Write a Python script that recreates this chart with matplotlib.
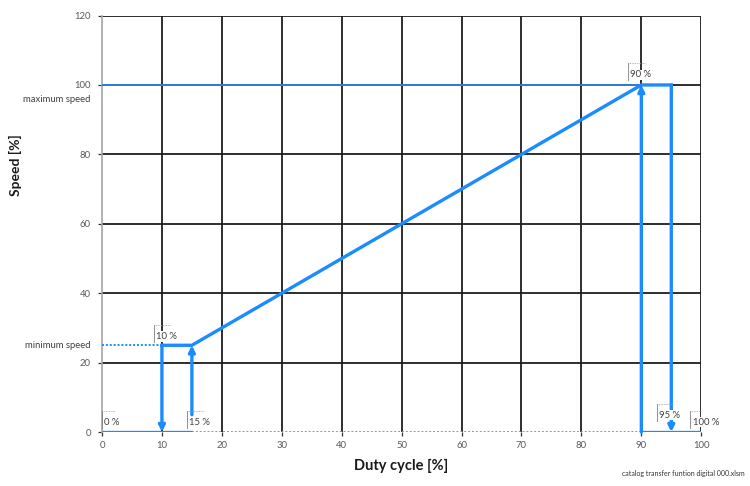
import matplotlib
matplotlib.use("Agg")
import matplotlib.pyplot as plt

plt.rcParams['font.family'] = ['Lato', 'DejaVu Sans']

# ---- data ----
x_ticks = [0, 10, 20, 30, 40, 50, 60, 70, 80, 90, 100]
y_ticks = [0, 20, 40, 60, 80, 100, 120]
min_speed = 25
max_speed = 100
dc_off_low = 10     # switch off below
dc_on_low = 15      # switch on above
dc_max = 90         # max speed reached
dc_off_high = 95    # switch off above
dc_full = 100
arrow_start_15 = 5  # start of the upward arrow at 15 %
ramp_x = [dc_off_low, dc_on_low, dc_max, dc_off_high]
ramp_y = [min_speed, min_speed, max_speed, max_speed]
pct_labels = ["0 %", "10 %", "15 %", "90 %", "95 %", "100 %"]
pct_label_x = [0, 8.7, 14.2, 87.8, 92.6, 98.2]
pct_label_y = [1.5, 26.3, 1.6, 101.6, 3.6, 1.6]
side_labels = ["maximum speed", "minimum speed"]
side_label_y = [95.8, 25]

BLUE = '#1a8cff'
GRID = '#1e1e1e'
TICK = '#595959'

fig = plt.figure(figsize=(7.5, 4.86), dpi=100)
ax = fig.add_axes([0.136, 0.111, 0.799, 0.857])
ax.set_xlim(x_ticks[0], x_ticks[-1])
ax.set_ylim(y_ticks[0], y_ticks[-1])

# grid lines (not at 0)
for xv in x_ticks[1:]:
    ax.axvline(xv, color=GRID, lw=1.3, zorder=1)
for yv in y_ticks[1:]:
    ax.axhline(yv, color=GRID, lw=1.3, zorder=1)

for s in ['top', 'right', 'bottom']:
    ax.spines[s].set_visible(False)
ax.spines['left'].set_color('#a6a6a6')
ax.spines['left'].set_linewidth(1.2)

ax.set_xticks(x_ticks)
ax.set_yticks(y_ticks)
ax.tick_params(axis='both', colors=TICK, labelsize=6.8, length=3, width=0.9)
ax.tick_params(axis='x', colors='#333333', labelcolor=TICK)
ax.tick_params(axis='y', colors='#333333', labelcolor=TICK, pad=5)

# dotted reference lines
ax.plot([x_ticks[0], dc_off_low], [min_speed, min_speed], color=BLUE, lw=1.4,
        ls=(0, (1, 1)), zorder=3)
ax.plot([x_ticks[0], dc_max], [max_speed, max_speed], color='#2f7fd6', lw=1.4,
        zorder=3)
ax.plot([dc_on_low, dc_max], [0, 0], color='#4da6ff', lw=1.4, ls=(0, (1, 1)),
        zorder=3)

# solid transfer lines
ax.plot([x_ticks[0], dc_on_low], [0, 0], color=BLUE, lw=2.4, zorder=4,
        solid_capstyle='butt')
ax.plot([dc_max, dc_full], [0, 0], color=BLUE, lw=2.4, zorder=4,
        solid_capstyle='butt')
ax.plot(ramp_x, ramp_y, color=BLUE, lw=2.4, zorder=4, solid_joinstyle='miter')

arrow_kw = dict(arrowstyle='-|>', color=BLUE, lw=2.4, mutation_scale=9,
                shrinkA=0, shrinkB=0)
ax.annotate('', xy=(dc_off_low, 0), xytext=(dc_off_low, min_speed),
            arrowprops=arrow_kw, zorder=5)
ax.annotate('', xy=(dc_on_low, min_speed), xytext=(dc_on_low, arrow_start_15),
            arrowprops=arrow_kw, zorder=5)
ax.annotate('', xy=(dc_max, max_speed), xytext=(dc_max, 0),
            arrowprops=arrow_kw, zorder=5)
ax.annotate('', xy=(dc_off_high, 0), xytext=(dc_off_high, max_speed),
            arrowprops=arrow_kw, zorder=5)

# percent labels with small corner marks
for t, lx, ly in zip(pct_labels, pct_label_x, pct_label_y):
    ax.text(lx + 0.35, ly, t, fontsize=6.8, color='#404040', ha='left',
            va='bottom', zorder=7,
            bbox=dict(facecolor='white', edgecolor='none', pad=0.6))
    ax.plot([lx, lx], [ly - 0.3, ly + 4.6], color='#7f7f7f', lw=0.6, zorder=8)
    ax.plot([lx, lx + 0.6 * len(t) + 0.4], [ly + 4.6, ly + 4.6], color='#9f9f9f',
            lw=0.6, ls=(0, (1, 1)), zorder=8)

# side labels
for t, yv in zip(side_labels, side_label_y):
    ax.text(-2.0, yv, t, fontsize=6.8, color='#404040', ha='right', va='center',
            transform=ax.transData, clip_on=False)

ax.set_xlabel('Duty cycle [%]', fontsize=10.5, fontweight='bold', color='#1a1a1a',
              labelpad=6)
fig.text(0.02, 0.66, 'Speed [%]', rotation=90, fontsize=10, fontweight='bold',
         color='#1a1a1a', ha='center', va='center')

fig.text(0.993, 0.018, 'catalog transfer funtion digital 000.xlsm', fontsize=5,
         color='#333333', ha='right', va='bottom')

fig.savefig('out.png', dpi=100)
